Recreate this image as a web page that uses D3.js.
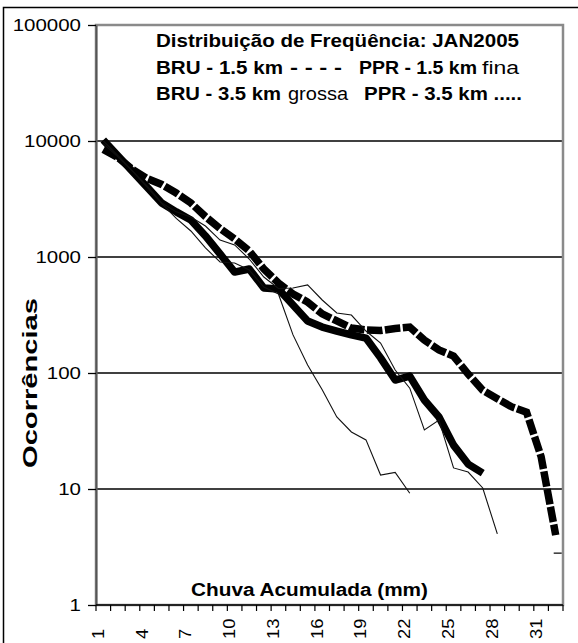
<!DOCTYPE html>
<html>
<head>
<meta charset="utf-8">
<script src="https://cdn.jsdelivr.net/npm/d3@7"></script>
<style>
  body { margin: 0; background: #fff; }
  svg { display: block; font-family: "Liberation Sans", Arial, sans-serif; }
</style>
</head>
<body>
<script>
"use strict";

// categorias do eixo x (chuva acumulada, mm) e rotulos
var categorias = d3.range(1, 33);
var rotulosX = [1, 4, 7, 10, 13, 16, 19, 22, 25, 28, 31];
var ticksY = [1, 10, 100, 1000, 10000, 100000];

// ocorrencias por serie
var bru15 = [8450, 7210, 5680, 4750, 4220, 3560, 2920, 2230, 1760, 1430, 1127, 788, 597, 480, 409, 323,
             281, 244, 235, 232, 242, 249, 192, 158, 140, 98, 71, 60, 51, 46, 19, 4];
var bru35 = [10200, 7470, 5460, 4000, 2925, 2450, 2085, 1518, 1062, 741, 788, 541, 530, 386, 281, 249,
             230, 213, 200, 135, 87, 94, 58.5, 41.8, 23.9, 16.4, 13.7];
var ppr15 = [9500, 7300, 5500, 4100, 2925, 2450, 2210, 1850, 1400, 1270, 961, 672, 535, 541, 574, 426,
             329, 316, 230, 181, 106, 74, 32.3, 39.3, 15.2, 14, 10.2, 4.1];
var ppr35 = [10000, 7500, 5500, 4000, 2900, 2150, 1675, 1196, 906, 888, 772, 551, 480, 213, 117, 71.6,
             41.8, 31, 26.5, 13.2, 13.9, 9.2];
var pontoIsolado = [{categoria: 32, valor: 2.8}];

// dimensoes
var W = 578, H = 643;
var area = {left: 96, right: 563, top: 25, bottom: 605};

var svg = d3.select("body").append("svg")
    .attr("width", W)
    .attr("height", H);

svg.append("rect").attr("width", W).attr("height", H).attr("fill", "#fff");

// borda externa do grafico
svg.append("rect")
    .attr("x", 3.5).attr("y", 7.5)
    .attr("width", 640).attr("height", 700)
    .attr("fill", "none")
    .attr("stroke", "#000")
    .attr("stroke-width", 1.5);

// escalas
var x = d3.scalePoint().domain(categorias).range([area.left, area.right]).padding(0.5);
var passo = x.step();
var y = d3.scaleLog().domain([1, 100000]).range([area.bottom, area.top]);

// linhas de grade
svg.append("g").selectAll("line")
    .data(ticksY.slice(1, -1))
  .join("line")
    .attr("x1", area.left).attr("x2", area.right)
    .attr("y1", function(d) { return y(d); })
    .attr("y2", function(d) { return y(d); })
    .attr("stroke", "#000")
    .attr("stroke-width", 1.3);

// moldura da area de plotagem
svg.append("rect")
    .attr("x", area.left).attr("y", area.top)
    .attr("width", area.right - area.left)
    .attr("height", area.bottom - area.top)
    .attr("fill", "none")
    .attr("stroke", "#8a8a8a")
    .attr("stroke-width", 2.5);

// eixo y
var eixoY = svg.append("g")
    .attr("transform", "translate(" + area.left + ",0)")
    .call(d3.axisLeft(y).tickValues(ticksY).tickFormat(d3.format("d")).tickSize(8).tickSizeOuter(0));
eixoY.select(".domain").attr("stroke", "#555").attr("stroke-width", 2);
eixoY.selectAll(".tick line").attr("stroke", "#000").attr("stroke-width", 1.3);
eixoY.selectAll(".tick text")
    .attr("x", 0)
    .attr("dy", "0.36em")
    .attr("transform", "translate(-15,0) scale(1.28,1)")
    .attr("font-size", 16)
    .attr("font-family", "Liberation Sans, Arial, sans-serif")
    .attr("fill", "#000");

// eixo x (marcas entre categorias)
var limites = categorias.map(function(c) { return x(c) - passo / 2; }).concat([area.right]);
var eixoX = svg.append("g");
eixoX.append("line")
    .attr("x1", area.left).attr("x2", area.right)
    .attr("y1", area.bottom).attr("y2", area.bottom)
    .attr("stroke", "#000").attr("stroke-width", 1.5);
eixoX.selectAll("line.marca")
    .data(limites)
  .join("line")
    .attr("class", "marca")
    .attr("x1", function(d) { return d; }).attr("x2", function(d) { return d; })
    .attr("y1", area.bottom).attr("y2", area.bottom + 6)
    .attr("stroke", "#000").attr("stroke-width", 1.2);
eixoX.selectAll("text")
    .data(rotulosX)
  .join("text")
    .attr("transform", function(d) { return "translate(" + (x(d) + 0.5) + ",639) rotate(-90) scale(1.08,1)"; })
    .attr("font-size", 17)
    .attr("fill", "#000")
    .text(function(d) { return d; });

// series
var linha = d3.line()
    .defined(function(d) { return d != null; })
    .x(function(d, i) { return x(categorias[i]); })
    .y(function(d) { return y(d); });

svg.append("path")
    .datum(bru15)
    .attr("d", linha)
    .attr("fill", "none")
    .attr("stroke", "#000")
    .attr("stroke-width", 7.5)
    .attr("stroke-dasharray", "15.5,2.5");

svg.append("path")
    .datum(bru35)
    .attr("d", linha)
    .attr("fill", "none")
    .attr("stroke", "#000")
    .attr("stroke-width", 7.5)
    .attr("stroke-linejoin", "round");

[ppr15, ppr35].forEach(function(serie) {
  svg.append("path")
      .datum(serie)
      .attr("d", linha)
      .attr("fill", "none")
      .attr("stroke", "#111")
      .attr("stroke-width", 1.1);
});

svg.selectAll("line.isolado")
    .data(pontoIsolado)
  .join("line")
    .attr("class", "isolado")
    .attr("x1", function(d) { return x(d.categoria) - 2; })
    .attr("x2", function(d) { return x(d.categoria) + 6; })
    .attr("y1", function(d) { return y(d.valor); })
    .attr("y2", function(d) { return y(d.valor); })
    .attr("stroke", "#000").attr("stroke-width", 1.2);

// titulo e legenda em texto
var textos = [
  {t: "Distribuição de Freqüência: JAN2005", x: 156, y: 46.5, w: 363, b: true},
  {t: "BRU - 1.5 km", x: 156, y: 74, w: 127, b: true},
  {t: "- - - -", x: 290, y: 74, w: 52, b: true},
  {t: "PPR - 1.5 km", x: 359, y: 74, w: 118, b: true},
  {t: "fina", x: 482, y: 74, w: 37, b: false},
  {t: "BRU - 3.5 km", x: 156, y: 100, w: 125, b: true},
  {t: "grossa", x: 288, y: 100, w: 60, b: false},
  {t: "PPR - 3.5 km .....", x: 364, y: 100, w: 158, b: true},
  {t: "Chuva Acumulada (mm)", x: 191, y: 596, w: 237, b: true}
];
svg.append("g").selectAll("text")
    .data(textos)
  .join("text")
    .attr("x", function(d) { return d.x; })
    .attr("y", function(d) { return d.y; })
    .attr("font-size", 17.5)
    .attr("font-weight", function(d) { return d.b ? "bold" : "normal"; })
    .attr("textLength", function(d) { return d.w; })
    .attr("lengthAdjust", "spacingAndGlyphs")
    .attr("fill", "#000")
    .text(function(d) { return d.t; });

// titulo do eixo y
svg.append("text")
    .attr("transform", "translate(37,383) scale(1.18,1) rotate(-90)")
    .attr("x", -85)
    .attr("font-size", 17.5)
    .attr("font-weight", "bold")
    .attr("textLength", 170)
    .attr("lengthAdjust", "spacingAndGlyphs")
    .attr("fill", "#000")
    .text("Ocorrências");
</script>
</body>
</html>
